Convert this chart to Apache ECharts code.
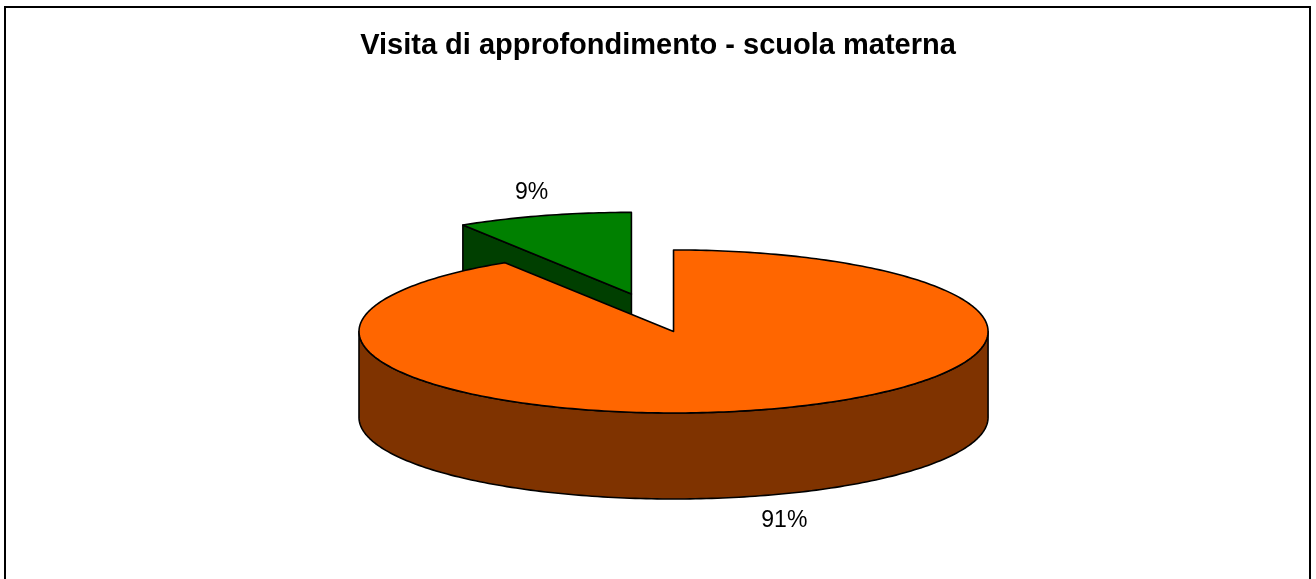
<!DOCTYPE html>
<html>
<head>
<meta charset="utf-8">
<script src="https://cdn.jsdelivr.net/npm/echarts@6/dist/echarts.min.js"></script>
<style>
html,body{margin:0;padding:0;background:#fff;}
#chart{width:1316px;height:579px;}
</style>
</head>
<body>
<div id="chart"></div>
<script>
// ---- data ----
const chartTitle = 'Visita di approfondimento - scuola materna';
const categories = ['Categoria 1', 'Categoria 2'];
const values = [91, 9];
const explodeFractions = [0, 0.48];

// ---- styles ----
const topColors = ['#FF6600', '#008000'];
const sideColors = ['#7F3300', '#003F00'];

const total = values.reduce((a, b) => a + b, 0);
const deg = Math.PI / 180;

function renderItem(params, api) {
  const i = params.dataIndex;
  const W = api.getWidth(), H = api.getHeight();
  const cx = W * 0.5118, cy = H * 0.5725;
  const rx = W * 0.239, ry = H * 0.1408, depth = H * 0.1485;
  let before = 0;
  for (let k = 0; k < i; k++) before += values[k];
  const v = api.value(0);
  // clockwise from 12 o'clock
  const hi = 90 - 360 * before / total;
  const lo = 90 - 360 * (before + v) / total;
  const mid = (hi + lo) / 2;
  const ex = explodeFractions[i];
  const ox = cx + ex * rx * Math.cos(mid * deg);
  const oy = cy - ex * ry * Math.sin(mid * deg);
  const P = (a, dz) => [ox + rx * Math.cos(a * deg), oy - ry * Math.sin(a * deg) + dz];
  const arc = (from, to, dz) => {
    const pts = [];
    const n = Math.max(2, Math.ceil(Math.abs(to - from) / 1));
    for (let s = 0; s <= n; s++) pts.push(P(from + (to - from) * s / n, dz));
    return pts;
  };
  const zBase = Math.round((1 - Math.sin(mid * deg)) * 10);
  const stroke = { stroke: '#000', lineWidth: 1.6, lineJoin: 'round' };
  const children = [];
  // cut faces
  const face = (a) => ({
    type: 'polygon', z2: zBase,
    shape: { points: [[ox, oy], P(a, 0), P(a, depth), [ox, oy + depth]] },
    style: Object.assign({ fill: sideColors[i] }, stroke)
  });
  if (Math.cos(lo * deg) > 1e-6) children.push(face(lo));
  if (Math.cos(hi * deg) < -1e-6) children.push(face(hi));
  // outer wall (front half)
  for (let k = -3; k <= 3; k++) {
    const s = Math.max(lo, 180 + 360 * k), e = Math.min(hi, 360 + 360 * k);
    if (e > s) {
      const pts = arc(s, e, 0).concat(arc(e, s, depth));
      children.push({
        type: 'polygon', z2: zBase + 1,
        shape: { points: pts },
        style: Object.assign({ fill: sideColors[i] }, stroke)
      });
    }
  }
  // top face
  children.push({
    type: 'polygon', z2: zBase + 2,
    shape: { points: [[ox, oy]].concat(arc(lo, hi, 0)) },
    style: Object.assign({ fill: topColors[i] }, stroke)
  });
  // label
  const sm = Math.sin(mid * deg), cm = Math.cos(mid * deg);
  children.push({
    type: 'text', z2: 50,
    x: ox + 1.2 * rx * cm + 5.5,
    y: oy - 1.3 * ry * sm + (sm < 0 ? depth : 0) + 1,
    style: {
      text: Math.round(v / total * 100) + '%',
      font: '23px "Liberation Sans", Arial, sans-serif',
      fill: '#000',
      textAlign: 'center',
      textVerticalAlign: 'middle'
    }
  });
  return { type: 'group', children };
}

const chart = echarts.init(document.getElementById('chart'), null, { renderer: 'canvas' });
chart.setOption({
  animation: false,
  backgroundColor: '#fff',
  title: {
    text: chartTitle,
    left: 'center',
    top: 26,
    textStyle: { fontSize: 29, fontWeight: 'bold', color: '#000', fontFamily: '"Liberation Sans", Arial, sans-serif' }
  },
  graphic: [{
    type: 'rect', z: -1,
    shape: { x: 5, y: 7, width: 1305, height: 620 },
    style: { fill: 'none', stroke: '#000', lineWidth: 2 }
  }],
  series: [{
    type: 'custom',
    coordinateSystem: 'none',
    renderItem: renderItem,
    data: values.map((v, i) => ({ name: categories[i], value: v }))
  }]
});
</script>
</body>
</html>
